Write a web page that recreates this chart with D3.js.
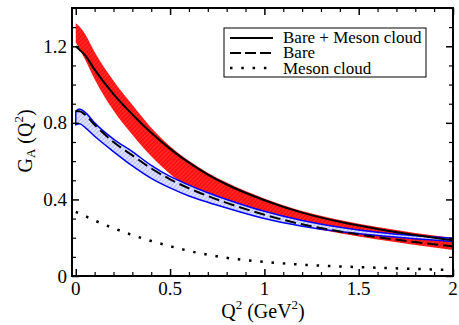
<!DOCTYPE html>
<html>
<head>
<meta charset="utf-8">
<script src="https://cdn.jsdelivr.net/npm/d3@7"></script>
<style>
  body { margin: 0; background: #fff; }
  svg { display: block; }
</style>
</head>
<body>
<svg id="chart" width="459" height="325"></svg>
<script>
// Q^2 grid (GeV^2)
var q2 = [0, 0.02, 0.05, 0.1, 0.2, 0.3, 0.4, 0.5, 0.6, 0.7, 0.8, 1.0, 1.2, 1.4, 1.6, 1.8, 2.0];

// Bare + Meson cloud (solid) and its band
var total    = [1.200, 1.182, 1.152, 1.078, 0.950, 0.844, 0.748, 0.664, 0.592, 0.530, 0.478, 0.396, 0.331, 0.283, 0.246, 0.214, 0.186];
var totalHi  = [1.320, 1.303, 1.263, 1.170, 1.020, 0.894, 0.775, 0.678, 0.602, 0.540, 0.488, 0.405, 0.340, 0.293, 0.256, 0.225, 0.200];
var totalLo  = [1.220, 1.185, 1.130, 1.028, 0.865, 0.738, 0.625, 0.533, 0.463, 0.412, 0.380, 0.314, 0.264, 0.223, 0.191, 0.162, 0.136];

// Bare (dashed) and its band
var bare     = [0.860, 0.860, 0.842, 0.790, 0.700, 0.630, 0.562, 0.505, 0.458, 0.418, 0.382, 0.320, 0.270, 0.233, 0.203, 0.177, 0.155];
var bareHi   = [0.862, 0.872, 0.855, 0.800, 0.715, 0.650, 0.578, 0.520, 0.475, 0.435, 0.400, 0.338, 0.290, 0.255, 0.228, 0.210, 0.197];
var bareLo   = [0.790, 0.795, 0.775, 0.730, 0.650, 0.575, 0.510, 0.460, 0.418, 0.385, 0.355, 0.300, 0.260, 0.232, 0.212, 0.195, 0.180];

// Meson cloud (dotted)
var meson    = [0.335, 0.326, 0.313, 0.290, 0.250, 0.214, 0.183, 0.156, 0.131, 0.111, 0.095, 0.074, 0.059, 0.050, 0.043, 0.037, 0.031];

var xMajor = [0, 0.5, 1, 1.5, 2];
var xLabels = ["0", "0.5", "1", "1.5", "2"];
var yMajor = [0, 0.4, 0.8, 1.2];
var yLabels = ["0", "0.4", "0.8", "1.2"];

var legendLabels = ["Bare + Meson cloud", "Bare", "Meson cloud"];

var serif = "Liberation Serif";

var svg = d3.select("#chart");
var m = { l: 72, r: 453, t: 8, b: 276 };

var x = d3.scaleLinear().domain([-0.02, 2]).range([m.l, m.r]);
var y = d3.scaleLinear().domain([0, 1.4]).range([m.b, m.t]);

// hatch patterns for the bands
var defs = svg.append("defs");
var pr = defs.append("pattern").attr("id", "hatchRed")
  .attr("patternUnits", "userSpaceOnUse").attr("width", 3).attr("height", 3)
  .attr("patternTransform", "rotate(45)");
pr.append("rect").attr("width", 3).attr("height", 3).attr("fill", "#ff1010");
pr.append("line").attr("x1", 0).attr("y1", 0).attr("x2", 0).attr("y2", 3)
  .attr("stroke", "#ff6a6a").attr("stroke-width", 0.7);

var pb = defs.append("pattern").attr("id", "hatchBlue")
  .attr("patternUnits", "userSpaceOnUse").attr("width", 3).attr("height", 3)
  .attr("patternTransform", "rotate(45)");
pb.append("rect").attr("width", 3).attr("height", 3).attr("fill", "#dfe2ff");
pb.append("line").attr("x1", 0).attr("y1", 0).attr("x2", 0).attr("y2", 3)
  .attr("stroke", "#8a94ff").attr("stroke-width", 1);

var curve = d3.curveMonotoneX;
var idx = d3.range(q2.length);

function band(lo, hi) {
  return d3.area().curve(curve)
    .x(function(i) { return x(q2[i]); })
    .y0(function(i) { return y(lo[i]); })
    .y1(function(i) { return y(hi[i]); })(idx);
}
function line(vals) {
  return d3.line().curve(curve)
    .x(function(i) { return x(q2[i]); })
    .y(function(i) { return y(vals[i]); })(idx);
}

var plot = svg.append("g");

plot.append("path").attr("d", band(totalLo, totalHi))
  .attr("fill", "url(#hatchRed)").attr("stroke", "none");

plot.append("path").attr("d", band(bareLo, bareHi))
  .attr("fill", "url(#hatchBlue)").attr("stroke", "#0000ff").attr("stroke-width", 1.5);

plot.append("path").attr("d", line(bare))
  .attr("fill", "none").attr("stroke", "#000").attr("stroke-width", 2)
  .attr("stroke-dasharray", "11,5");

plot.append("path").attr("d", line(total))
  .attr("fill", "none").attr("stroke", "#000").attr("stroke-width", 2);

plot.append("path").attr("d", line(meson))
  .attr("fill", "none").attr("stroke", "#000").attr("stroke-width", 2.5)
  .attr("stroke-dasharray", "2.5,8.8");

// axes: ticks inward on all four sides
var xMinor = d3.range(0, 2.001, 0.1).filter(function(v) { return Math.abs(v * 2 - Math.round(v * 2)) > 1e-6; });
var yMinor = d3.range(0, 1.401, 0.1).filter(function(v) { return Math.abs(v / 0.4 - Math.round(v / 0.4)) > 1e-6; });

function drawAxis(scale, orient, pos, major, minor) {
  var ax = orient(scale).tickSizeOuter(0).tickSizeInner(-7).tickValues(major);
  var g = svg.append("g").attr("transform", pos);
  g.call(ax);
  g.select(".domain").remove();
  g.selectAll(".tick line").attr("stroke", "#000").attr("stroke-width", 1.5);
  g.selectAll(".tick text").remove();
  var ax2 = orient(scale).tickSizeOuter(0).tickSizeInner(-4).tickValues(minor).tickFormat("");
  var g2 = svg.append("g").attr("transform", pos);
  g2.call(ax2);
  g2.select(".domain").remove();
  g2.selectAll(".tick line").attr("stroke", "#000").attr("stroke-width", 1.2);
}

drawAxis(x, d3.axisBottom, "translate(0," + m.b + ")", xMajor, xMinor);
drawAxis(x, d3.axisTop, "translate(0," + m.t + ")", xMajor, xMinor);
drawAxis(y, d3.axisLeft, "translate(" + m.l + ",0)", yMajor, yMinor);
drawAxis(y, d3.axisRight, "translate(" + m.r + ",0)", yMajor, yMinor);

// frame
svg.append("rect").attr("x", m.l).attr("y", m.t)
  .attr("width", m.r - m.l).attr("height", m.b - m.t)
  .attr("fill", "none").attr("stroke", "#000").attr("stroke-width", 2);

// tick labels
svg.selectAll(".xlab").data(xMajor).enter().append("text")
  .attr("x", function(d) { return x(d); }).attr("y", 295)
  .attr("text-anchor", "middle").attr("font-size", 19)
  .style("font-family", serif)
  .text(function(d, i) { return xLabels[i]; });

svg.selectAll(".ylab").data(yMajor).enter().append("text")
  .attr("x", 67).attr("y", function(d) { return y(d) + 6.5; })
  .attr("text-anchor", "end").attr("font-size", 19)
  .style("font-family", serif)
  .text(function(d, i) { return yLabels[i]; });

// axis titles
var xt = svg.append("text").attr("x", 263).attr("y", 318)
  .attr("text-anchor", "middle").attr("font-size", 20).style("font-family", serif);
xt.append("tspan").text("Q");
xt.append("tspan").attr("font-size", 13).attr("dy", -9).text("2");
xt.append("tspan").attr("dy", 9).text(" (GeV");
xt.append("tspan").attr("font-size", 13).attr("dy", -9).text("2");
xt.append("tspan").attr("dy", 9).text(")");

var yt = svg.append("text").attr("transform", "translate(32,141) rotate(-90)")
  .attr("text-anchor", "middle").attr("font-size", 20).style("font-family", serif);
yt.append("tspan").text("G");
yt.append("tspan").attr("font-size", 13).attr("dy", 3).text("A");
yt.append("tspan").attr("dy", -3).text(" (Q");
yt.append("tspan").attr("font-size", 13).attr("dy", -9).text("2");
yt.append("tspan").attr("dy", 9).text(")");

// legend
var lg = svg.append("g");
lg.append("rect").attr("x", 224).attr("y", 28).attr("width", 202).attr("height", 49)
  .attr("fill", "#fff").attr("stroke", "#000").attr("stroke-width", 1);
var dashes = [null, "11,4", "2.5,8.8"];
var widths = [2, 2, 2.5];
var rows = [38, 53, 68];
legendLabels.forEach(function(lab, i) {
  lg.append("line").attr("x1", 230).attr("x2", 273).attr("y1", rows[i]).attr("y2", rows[i])
    .attr("stroke", "#000").attr("stroke-width", widths[i])
    .attr("stroke-dasharray", dashes[i]);
  lg.append("text").attr("x", 283).attr("y", rows[i] + 5 + (i === 2 ? 1 : 0))
    .attr("font-size", 17).style("font-family", serif).text(lab);
});
</script>
</body>
</html>
